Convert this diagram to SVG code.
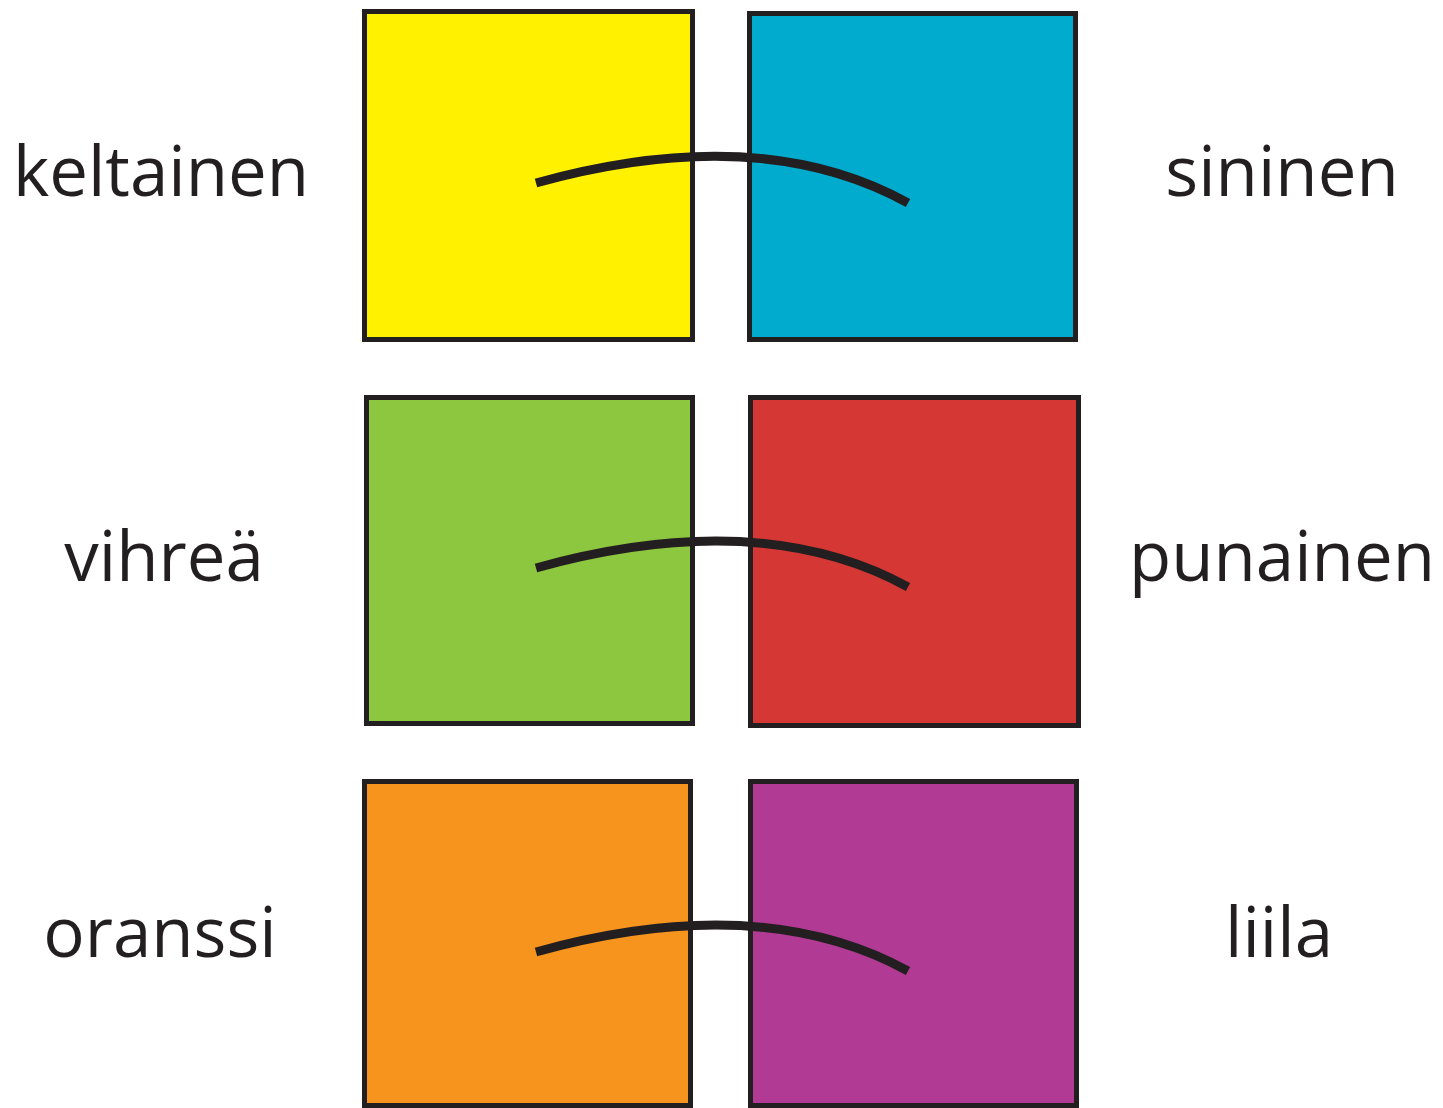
<svg xmlns="http://www.w3.org/2000/svg" width="1443" height="1108" viewBox="0 0 1443 1108">
  <style>
    .box { stroke: #231f20; stroke-width: 5; }
    .lbl { font-family: "Open Sans", "Noto Sans", sans-serif; font-size: 69px; fill: #231f20; text-anchor: middle; }
    .arc { fill: none; stroke: #231f20; stroke-width: 9; }
  </style>
  <rect width="1443" height="1108" fill="#ffffff"/>
  <g id="node-keltainen">
    <rect class="box" x="364.5" y="11.5" width="328" height="328" fill="#fff100"/>
    <text class="lbl" x="161" y="196">keltainen</text>
  </g>
  <g id="node-sininen">
    <rect class="box" x="749.5" y="13.5" width="326" height="326" fill="#00abce"/>
    <text class="lbl" x="1282" y="196">sininen</text>
  </g>
  <g id="node-vihrea">
    <rect class="box" x="366.5" y="397.5" width="326" height="326" fill="#8dc63f"/>
    <text class="lbl" x="164" y="581">vihreä</text>
  </g>
  <g id="node-punainen">
    <rect class="box" x="750.5" y="397.5" width="328" height="328" fill="#d43734"/>
    <text class="lbl" x="1282" y="581">punainen</text>
  </g>
  <g id="node-oranssi">
    <rect class="box" x="364.5" y="781.5" width="326" height="324" fill="#f7941d"/>
    <text class="lbl" x="160" y="957">oranssi</text>
  </g>
  <g id="node-liila">
    <rect class="box" x="750.5" y="781.5" width="326" height="324" fill="#b13a94"/>
    <text class="lbl" x="1279" y="957">liila</text>
  </g>
  <g id="connectors">
    <path class="arc" d="M536,183 Q760,121 908,203"/>
    <path class="arc" d="M536,568 Q760,506 908,587"/>
    <path class="arc" d="M536,952 Q760,890 908,971"/>
  </g>
</svg>
